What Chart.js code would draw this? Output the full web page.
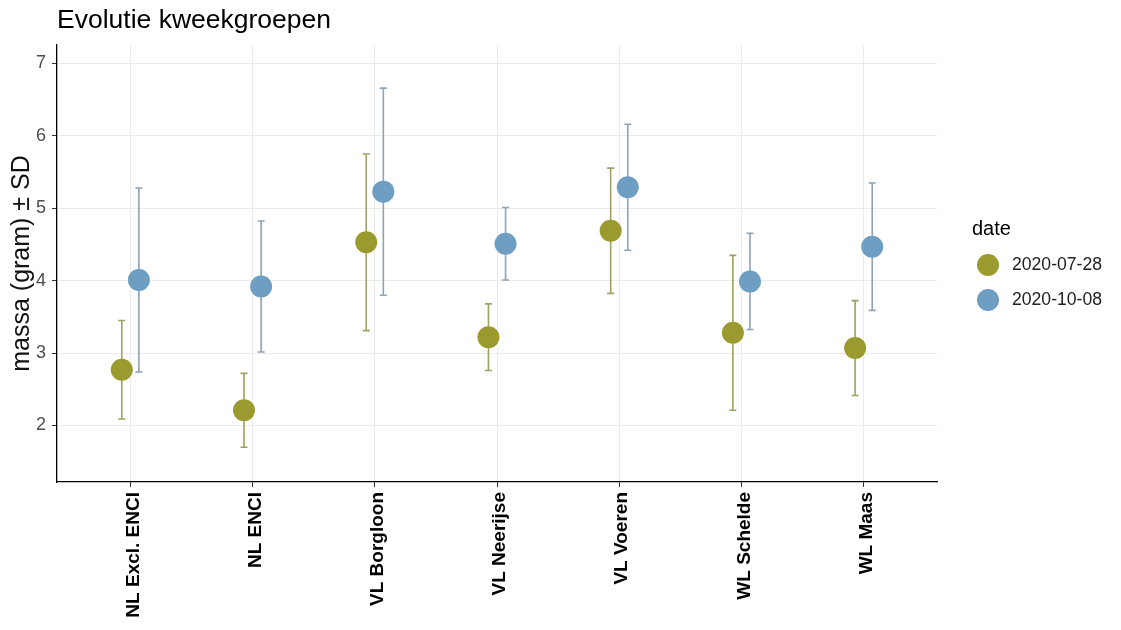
<!DOCTYPE html>
<html>
<head>
<meta charset="utf-8">
<script src="https://cdn.jsdelivr.net/npm/chart.js@4/dist/chart.umd.min.js"></script>
<style>
html,body{margin:0;padding:0;background:#ffffff;}
#wrap{width:1121px;height:630px;position:relative;}
</style>
</head>
<body>
<div id="wrap"><canvas id="c" width="1121" height="630"></canvas></div>
<script>
// ---- data ----
const chartTitle = 'Evolutie kweekgroepen';
const yAxisTitle = 'massa (gram) \u00b1 SD';
const legendTitle = 'date';
const categories = ['NL Excl. ENCI', 'NL ENCI', 'VL Borgloon', 'VL Neerijse', 'VL Voeren', 'WL Schelde', 'WL Maas'];
const seriesNames = ['2020-07-28', '2020-10-08'];
const mean0728 = [2.77, 2.21, 4.53, 3.22, 4.69, 3.28, 3.07];
const sd0728   = [0.68, 0.51, 1.22, 0.46, 0.865, 1.07, 0.655];
const mean1008 = [4.01, 3.92, 5.23, 4.51, 5.29, 3.99, 4.47];
const sd1008   = [1.27, 0.905, 1.43, 0.50, 0.87, 0.665, 0.88];
const yTicks = [2, 3, 4, 5, 6, 7];

// ---- styles ----
const FONT = "'Liberation Sans', Arial, Helvetica, sans-serif";
const colPoint = ['#9a9a2e', '#6e9ec2'];
const colBar = ['#a0a062', '#8ea3b6'];
const dodge = 0.07;

Chart.defaults.font.family = FONT;

const seriesMeans = [mean0728, mean1008];
const seriesSds = [sd0728, sd1008];

const datasets = seriesNames.map((name, s) => ({
  label: name,
  data: categories.map((c, i) => ({ x: i + (s === 0 ? -dodge : dodge), y: seriesMeans[s][i], sd: seriesSds[s][i] })),
  backgroundColor: colPoint[s],
  borderColor: colPoint[s],
  borderWidth: 0,
  pointRadius: 11,
  pointHoverRadius: 11,
  showLine: false,
  errColor: colBar[s]
}));

const errorBars = {
  id: 'errorBars',
  beforeDatasetsDraw(chart) {
    const ctx = chart.ctx;
    const xs = chart.scales.x, ys = chart.scales.y;
    ctx.save();
    chart.data.datasets.forEach(ds => {
      ctx.strokeStyle = ds.errColor;
      ctx.lineWidth = 1.6;
      ds.data.forEach(p => {
        const px = xs.getPixelForValue(p.x);
        const top = ys.getPixelForValue(p.y + p.sd);
        const bot = ys.getPixelForValue(p.y - p.sd);
        ctx.beginPath();
        ctx.moveTo(px, top); ctx.lineTo(px, bot);
        ctx.moveTo(px - 3.5, top); ctx.lineTo(px + 3.5, top);
        ctx.moveTo(px - 3.5, bot); ctx.lineTo(px + 3.5, bot);
        ctx.stroke();
      });
    });
    ctx.restore();
  }
};

const extras = {
  id: 'extras',
  afterDraw(chart) {
    const ctx = chart.ctx;
    const area = chart.chartArea;
    ctx.save();
    // title
    ctx.fillStyle = '#000';
    ctx.font = '26.5px ' + FONT;
    ctx.textAlign = 'left';
    ctx.textBaseline = 'middle';
    ctx.fillText(chartTitle, area.left, 21);
    // legend
    const lx = area.right + 35;
    ctx.font = '20px ' + FONT;
    ctx.fillStyle = '#000';
    ctx.fillText(legendTitle, lx, 229);
    seriesNames.forEach((name, s) => {
      const cy = 265 + s * 35;
      ctx.beginPath();
      ctx.fillStyle = colPoint[s];
      ctx.arc(lx + 16, cy, 11, 0, Math.PI * 2);
      ctx.fill();
      ctx.fillStyle = '#222';
      ctx.font = '17.6px ' + FONT;
      ctx.fillText(name, lx + 40, cy);
    });
    ctx.restore();
  }
};

new Chart(document.getElementById('c'), {
  type: 'scatter',
  data: { datasets },
  plugins: [errorBars, extras],
  options: {
    responsive: false,
    devicePixelRatio: 1,
    animation: false,
    events: [],
    layout: { padding: { top: 45, right: 184, bottom: 0, left: 0 } },
    plugins: {
      legend: { display: false },
      tooltip: { enabled: false },
      title: { display: false }
    },
    scales: {
      x: {
        type: 'linear',
        min: -0.6,
        max: 6.6,
        afterBuildTicks: (scale) => { scale.ticks = categories.map((c, i) => ({ value: i })); },
        afterFit: (scale) => { scale.height = 148; },
        grid: { color: '#ebebeb', lineWidth: 1, tickColor: '#333', tickLength: 5 },
        border: { display: true, color: '#000', width: 1.3 },
        ticks: {
          autoSkip: false,
          minRotation: 90,
          maxRotation: 90,
          padding: 5,
          labelOffset: 3,
          color: '#000',
          font: { size: 19, weight: 'bold' },
          callback: (v) => categories[v]
        }
      },
      y: {
        type: 'linear',
        min: 1.22,
        max: 7.255,
        afterBuildTicks: (scale) => { scale.ticks = yTicks.map(v => ({ value: v })); },
        afterFit: (scale) => { scale.width = 57; },
        grid: { color: '#ebebeb', lineWidth: 1, tickColor: '#333', tickLength: 5 },
        border: { display: true, color: '#000', width: 1.3 },
        ticks: { padding: 6, color: '#4d4d4d', font: { size: 18 } },
        title: { display: true, text: yAxisTitle, color: '#111', font: { size: 25 }, padding: { top: 7, bottom: 0 } }
      }
    }
  }
});
</script>
</body>
</html>
